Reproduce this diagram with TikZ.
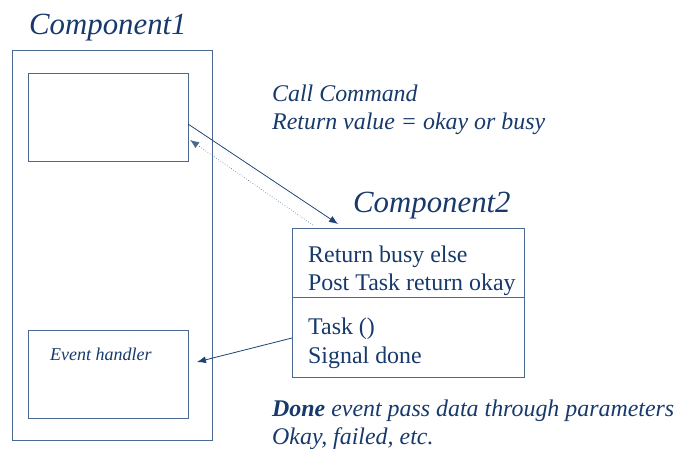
\documentclass[tikz,border=0pt]{standalone}
\usepackage{fontspec}
\setmainfont{Liberation Serif}
\usetikzlibrary{arrows.meta}
\definecolor{color_comp_text}{HTML}{17396B}
\definecolor{color_comp_line}{HTML}{4A6890}
\definecolor{color_comp_arrow}{HTML}{1F4275}
\def\complinewidth{0.9pt}
\def\comptitlesize{\fontsize{30.8}{34}\selectfont\itshape}
\def\compnotesize{\fontsize{23.9}{28}\selectfont\itshape}
\def\compbodysize{\fontsize{23.9}{28}\selectfont}

\begin{document}
\begin{tikzpicture}[x=1pt,y=-1pt,
    compbox/.style={draw=color_comp_line,line width=\complinewidth,anchor=north west,inner sep=0pt},
    comptext/.style={color_comp_text,anchor=base west,inner sep=0pt},
    comparrow/.style={color_comp_arrow,line width=0.8pt,-{Latex[length=9pt,width=7pt]}}]
        \useasboundingbox (0,0) rectangle (680,448);
        % first component with its two inner boxes
        \node[compbox,minimum width=200pt,minimum height=390pt] (comp1) at (12,50) {};
        \node[compbox,minimum width=160pt,minimum height=88pt] (cmdbox) at (28,73) {};
        \node[compbox,minimum width=160pt,minimum height=88pt] (evbox) at (28,330) {};
        % second component, split in two
        \node[compbox,minimum width=232pt,minimum height=69pt] (comp2top) at (292,228) {};
        \node[compbox,minimum width=232pt,minimum height=80pt] (comp2bot) at (292,297) {};
        % labels
        \node[comptext] (comp1title) at (29,34) {\comptitlesize Component1};
        \node[comptext] (comp2title) at (353,212) {\comptitlesize Component2};
        \node[comptext] (callnote) at (272,101) {\compnotesize Call Command};
        \node[comptext] (retnote) at (272,129) {\compnotesize Return value = okay or busy};
        \node[comptext] (busyline) at (308,262) {\compbodysize Return busy else};
        \node[comptext] (postline) at (308,290) {\compbodysize Post Task return okay};
        \node[comptext] (taskline) at (308,334) {\compbodysize Task ()};
        \node[comptext] (signalline) at (308,363) {\compbodysize Signal done};
        \node[comptext] (evlabel) at (50,360) {\fontsize{18}{20}\selectfont\itshape Event handler};
        \node[comptext] (donenote) at (272,416) {\compnotesize\textbf{Done} event pass data through parameters};
        \node[comptext] (okaynote) at (272,444) {\compnotesize Okay, failed, etc.};
        % arrow end points
        \coordinate (callfrom) at (188,124);
        \coordinate (callto) at (338,224);
        \coordinate (retfrom) at (313,225);
        \coordinate (retto) at (190,140);
        \coordinate (sigfrom) at (292,338);
        \coordinate (sigto) at (197,362);
        \draw[comparrow] (callfrom) -- (callto);
        \draw[comparrow,color_comp_line,line width=0.6pt,dotted] (retfrom) -- (retto);
        \draw[comparrow] (sigfrom) -- (sigto);
    \end{tikzpicture}
\end{document}
